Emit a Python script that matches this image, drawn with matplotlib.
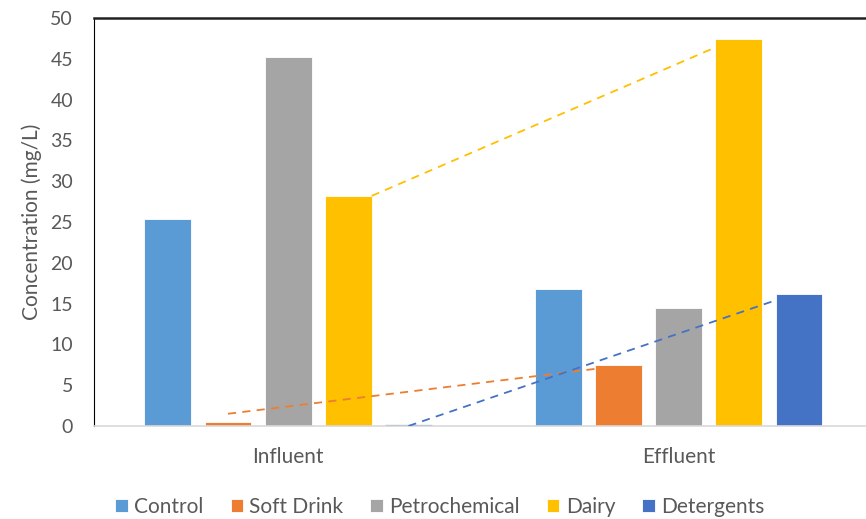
import numpy as np
import matplotlib
matplotlib.use("Agg")
import matplotlib.pyplot as plt

categories = ["Influent", "Effluent"]
series = ["Control", "Soft Drink", "Petrochemical", "Dairy", "Detergents"]
control = [25.4, 16.8]
soft_drink = [0.5, 7.5]
petrochemical = [45.2, 14.5]
dairy = [28.2, 47.4]
detergents = [0.2, 16.2]
yticks = list(range(0, 55, 5))

colors = ["#5B9BD5", "#ED7D31", "#A5A5A5", "#FFC000", "#4472C4"]
text_col = "#595959"

plt.rcParams["font.family"] = ["Lato", "DejaVu Sans"]

fig = plt.figure(figsize=(8.66, 5.19), dpi=100)
ax = fig.add_axes([94 / 866, 1 - 426 / 519, 780 / 866, 408 / 519])

x = np.arange(len(categories))
w = 0.12
step = 0.154
values = [control, soft_drink, petrochemical, dairy, detergents]
bars = []
for i, (name, vals) in enumerate(zip(series, values)):
    b = ax.bar(x + (i - 2) * step, vals, w, color=colors[i], label=name,
               edgecolor="white", linewidth=0.6, zorder=2)
    bars.append(b)

# dashed connector lines between influent and effluent bars
def connect(idx, x0_off, y0_off, y1_off, color):
    b0, b1 = bars[idx][0], bars[idx][1]
    x0 = b0.get_x() + b0.get_width() * x0_off
    y0 = b0.get_height() + y0_off
    x1 = b1.get_x()
    y1 = b1.get_height() + y1_off
    ax.plot([x0, x1], [y0, y1], ls=(0, (4.5, 3.5)), color=color, lw=1.3, zorder=3)

connect(1, 0.5, 1.0, -0.5, colors[1])
connect(3, 1.0, 0.0, -1.0, colors[3])
connect(4, 0.5, -0.2, -0.8, colors[4])

ax.set_xlim(-0.497, 1.5)
ax.set_ylim(0, 50)
ax.set_yticks(yticks)
ax.set_xticks(x)
ax.set_xticklabels(categories, fontsize=15)
ax.tick_params(axis="both", length=0, colors=text_col)
ax.tick_params(axis="y", pad=15, labelsize=14)
ax.tick_params(axis="x", pad=15)
ax.set_ylabel("Concentration (mg/L)", fontsize=15, color=text_col, labelpad=6)

ax.spines["right"].set_visible(False)
ax.spines["bottom"].set_color("#D9D9D9")
ax.spines["bottom"].set_linewidth(1.2)
ax.spines["left"].set_color("black")
ax.spines["top"].set_color("#222222")
ax.spines["top"].set_linewidth(1.8)

fig.legend(loc="center", bbox_to_anchor=(0.508, 0.023), ncol=5, frameon=False,
           fontsize=15, handlelength=0.6, handleheight=0.6, handletextpad=0.3,
           columnspacing=1.3, labelcolor=text_col)

fig.savefig("out.png", dpi=100)
